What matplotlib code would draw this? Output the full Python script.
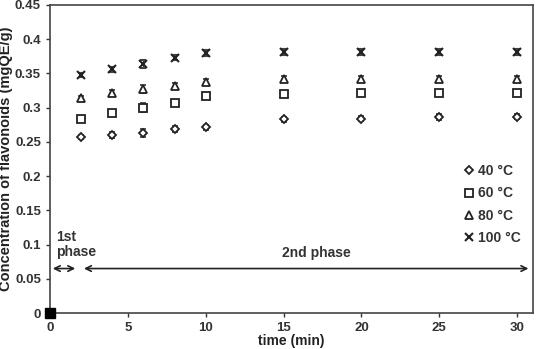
import numpy as np
import matplotlib
matplotlib.use("Agg")
import matplotlib.pyplot as plt

plt.rcParams['font.family'] = ['Liberation Sans', 'DejaVu Sans']
plt.rcParams['font.weight'] = 'bold'

# data
time = [2, 4, 6, 8, 10, 15, 20, 25, 30]
c40 = [0.257, 0.260, 0.263, 0.269, 0.271, 0.283, 0.284, 0.286, 0.287]
c60 = [0.284, 0.292, 0.300, 0.306, 0.317, 0.320, 0.321, 0.321, 0.321]
c80 = [0.314, 0.322, 0.327, 0.332, 0.338, 0.342, 0.342, 0.342, 0.342]
c100 = [0.347, 0.356, 0.364, 0.373, 0.380, 0.381, 0.381, 0.381, 0.381]
err = [0.003, 0.004, 0.006, 0.004, 0.004, 0.004, 0.004, 0.004, 0.004]
labels = ['40 °C', '60 °C', '80 °C', '100 °C']

fig = plt.figure(figsize=(5.4, 3.49), dpi=100)
ax = fig.add_axes([0.0926, 0.103, 0.894, 0.883])

ax.errorbar(time, c40, yerr=err, fmt='D', ms=4.5, mfc='white', mec='#222222', mew=1.3,
            ecolor='#444444', elinewidth=0.7, capsize=2, label=labels[0])
ax.errorbar(time, c60, yerr=err, fmt='s', ms=6, mfc='white', mec='#222222', mew=1.3,
            ecolor='#444444', elinewidth=0.7, capsize=2, label=labels[1])
ax.errorbar(time, c80, yerr=err, fmt='^', ms=6, mfc='white', mec='#222222', mew=1.3,
            ecolor='#444444', elinewidth=0.7, capsize=2, label=labels[2])
ax.errorbar(time, c100, yerr=err, fmt='x', ms=6, mec='#222222', mew=1.5,
            ecolor='#444444', elinewidth=0.7, capsize=2, label=labels[3])

# black square at origin
ax.plot([0], [0], 's', color='black', ms=7, clip_on=False, zorder=5)

# phase arrows
ax.annotate('', xy=(0, 0.065), xytext=(1.8, 0.065),
            arrowprops=dict(arrowstyle='<->', color='#222222', lw=1.2))
ax.annotate('', xy=(30.9, 0.065), xytext=(2.0, 0.065),
            arrowprops=dict(arrowstyle='<->', color='#222222', lw=1.2))
ax.text(0.4, 0.1, '1st\nphase', fontsize=10, fontweight='bold', color='#333333',
        va='center', ha='left', linespacing=1.1)
ax.text(14.9, 0.088, '2nd phase', fontsize=10, fontweight='bold', color='#333333',
        va='center', ha='left')

ax.set_xlim(0, 31)
ax.set_ylim(0, 0.45)
ax.set_xticks([0, 5, 10, 15, 20, 25, 30])
ax.set_yticks(np.arange(0, 0.451, 0.05))
ax.set_yticklabels(['0', '0.05', '0.1', '0.15', '0.2', '0.25', '0.3', '0.35', '0.4', '0.45'])
ax.tick_params(labelsize=9.5, colors='#333333', length=3, width=1)
for s in ax.spines.values():
    s.set_color('#444444')
    s.set_linewidth(1.2)

ax.set_xlabel('time (min)', fontsize=10, fontweight='bold', color='#222222', labelpad=0)
ax.set_ylabel('Concentration of flavonoids (mgQE/g)', fontsize=10.5, fontweight='bold',
              color='#222222')
ax.yaxis.set_label_coords(-0.076, 0.5)

handles, lbls = ax.get_legend_handles_labels()
handles = [h[0] for h in handles]
leg = ax.legend(handles, lbls, loc='lower right', bbox_to_anchor=(1.0, 0.18), frameon=False,
                fontsize=10, handletextpad=0.1, handlelength=1.0, labelspacing=0.6,
                markerscale=0.9)
for t in leg.get_texts():
    t.set_color('#333333')

fig.savefig('out.png', dpi=100)
